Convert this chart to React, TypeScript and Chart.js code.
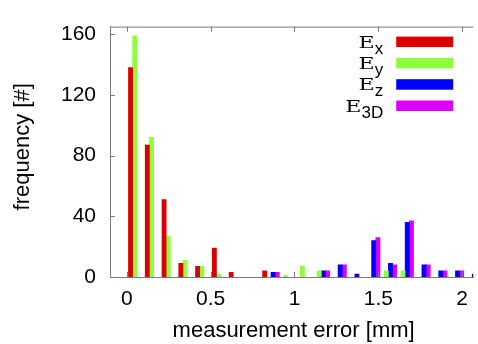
import React, { useEffect, useRef } from 'react';
import { Chart, registerables } from 'chart.js';

Chart.register(...registerables);

// x positions (mm) of the histogram bin groups
const binCenters = [0.06, 0.16, 0.26, 0.36, 0.46, 0.56, 0.66, 0.76, 0.86, 0.96, 1.06, 1.16, 1.26, 1.36, 1.46, 1.56, 1.66, 1.76, 1.86, 1.96, 2.06];

// frequencies per bin
const ex = [138, 87, 51, 9, 7, 19, 3, 0, 4, 0, 0, 0, 0, 0, 0, 0, 0, 0, 0, 0, 0];
const ey = [159, 92, 27, 11, 7, 2, 0, 0, 0, 1, 7, 4, 0, 0, 0, 4, 4, 0, 0, 0, 0];
const ez = [0, 0, 0, 0, 0, 0, 0, 0, 3, 0, 0, 4, 8, 2, 24, 9, 36, 8, 4, 4, 2];
const e3d = [0, 0, 0, 0, 0, 0, 0, 0, 3, 0, 0, 4, 8, 0, 26, 8, 37, 8, 4, 4, 2];

const seriesLabels = ['Ex', 'Ey', 'Ez', 'E3D'];
const legendBase = ['E', 'E', 'E', 'E'];
const legendSubs = ['x', 'y', 'z', '3D'];
const seriesColors = ['#dd0000', '#8eff3c', '#0000ff', '#dd00ff'];

const xTickValues = [0, 0.5, 1, 1.5, 2];
const xTickLabels = ['0', '0.5', '1', '1.5', '2'];
const yTickValues = [0, 40, 80, 120, 160];
const yTickLabels = ['0', '40', '80', '120', '160'];

const xTitle = 'measurement error [mm]';
const yTitle = 'frequency [#]';

const axisColor = '#7a7a7a';
const sans = "'Liberation Sans', Arial, sans-serif";
const serif = "'DejaVu Serif', serif";

const decorPlugin = {
  id: 'gnuplotDecor',
  afterDraw(chart: any) {
    const { ctx, chartArea: a, scales } = chart;
    const xs = scales.x;
    const ys = scales.y;
    ctx.save();
    // top border + inner ticks
    ctx.strokeStyle = axisColor;
    ctx.lineWidth = 1;
    ctx.beginPath();
    ctx.moveTo(a.left, a.top + 0.5);
    ctx.lineTo(a.right, a.top + 0.5);
    xTickValues.forEach((v) => {
      const px = Math.round(xs.getPixelForValue(v)) + 0.5;
      ctx.moveTo(px, a.bottom);
      ctx.lineTo(px, a.bottom - 5);
      ctx.moveTo(px, a.top);
      ctx.lineTo(px, a.top + 5);
    });
    yTickValues.forEach((v) => {
      const py = Math.round(ys.getPixelForValue(v)) + 0.5;
      ctx.moveTo(a.left, py);
      ctx.lineTo(a.left + 5, py);
    });
    ctx.stroke();

    // axis titles
    ctx.fillStyle = '#000';
    ctx.font = `22px ${sans}`;
    ctx.textAlign = 'center';
    ctx.textBaseline = 'alphabetic';
    ctx.fillText(xTitle, (a.left + a.right) / 2 + 2, 337);
    ctx.save();
    ctx.translate(28.5, (a.top + a.bottom) / 2 - 5);
    ctx.rotate(-Math.PI / 2);
    ctx.fillText(yTitle, 0, 0);
    ctx.restore();

    // legend
    const subRight = a.right - 90;
    chart.data.datasets.forEach((ds: any, i: number) => {
      const base = a.top + 21 + i * 21.3;
      ctx.font = `17px ${sans}`;
      const ws = ctx.measureText(legendSubs[i]).width;
      ctx.textAlign = 'left';
      ctx.fillStyle = '#000';
      ctx.fillText(legendSubs[i], subRight - ws, base + 6);
      ctx.font = `17px ${serif}`;
      const we = ctx.measureText(legendBase[i]).width;
      const sx = 1.3;
      ctx.save();
      ctx.translate(subRight - ws - we * sx, base);
      ctx.scale(sx, 1);
      ctx.fillText(legendBase[i], 0, 0);
      ctx.restore();
      ctx.fillStyle = ds.backgroundColor;
      ctx.fillRect(a.right - 77, base - 11, 57, 10.5);
    });
    ctx.restore();
  },
};

export default function App() {
  const ref = useRef<HTMLCanvasElement | null>(null);
  useEffect(() => {
    if (!ref.current) return;
    const datasets = [ex, ey, ez, e3d].map((vals, k) => ({
      label: seriesLabels[k],
      data: binCenters.map((x, i) => ({ x, y: vals[i] === 0 ? null : vals[i] })),
      backgroundColor: seriesColors[k],
      borderWidth: 0,
      categoryPercentage: 1,
      barPercentage: 1,
    }));
    const chart = new Chart(ref.current, {
      type: 'bar',
      data: { datasets },
      plugins: [decorPlugin],
      options: {
        animation: false,
        responsive: false,
        events: [],
        layout: { padding: { top: 9, right: 0, left: 0, bottom: 0 } },
        plugins: { legend: { display: false }, tooltip: { enabled: false } },
        scales: {
          x: {
            type: 'linear',
            offset: false,
            min: -0.1,
            max: 2.066,
            grid: { display: false, drawTicks: false },
            border: { display: true, color: axisColor, width: 1 },
            afterBuildTicks: (s: any) => {
              s.ticks = xTickValues.map((v) => ({ value: v }));
            },
            afterFit: (s: any) => {
              s.height = 67;
            },
            ticks: {
              autoSkip: false,
              maxRotation: 0,
              padding: 10,
              color: '#000',
              font: { family: sans, size: 21 },
              callback: (v: any) => {
                const i = xTickValues.indexOf(Number(v));
                return i >= 0 ? xTickLabels[i] : '';
              },
            },
          },
          y: {
            type: 'linear',
            min: 0,
            max: 165,
            grid: { display: false, drawTicks: false },
            border: { display: true, color: axisColor, width: 1 },
            afterBuildTicks: (s: any) => {
              s.ticks = yTickValues.map((v) => ({ value: v }));
            },
            afterFit: (s: any) => {
              s.width = 110;
            },
            ticks: {
              padding: 14,
              color: '#000',
              font: { family: sans, size: 21 },
              callback: (v: any) => {
                const i = yTickValues.indexOf(Number(v));
                return i >= 0 ? yTickLabels[i] : '';
              },
            },
          },
        },
      },
    } as any);
    return () => chart.destroy();
  }, []);
  return (
    <div style={{ position: 'absolute', left: 0, top: 0, width: 478, height: 344, background: '#fff' }}>
      <canvas ref={ref} width={478} height={344} />
    </div>
  );
}
